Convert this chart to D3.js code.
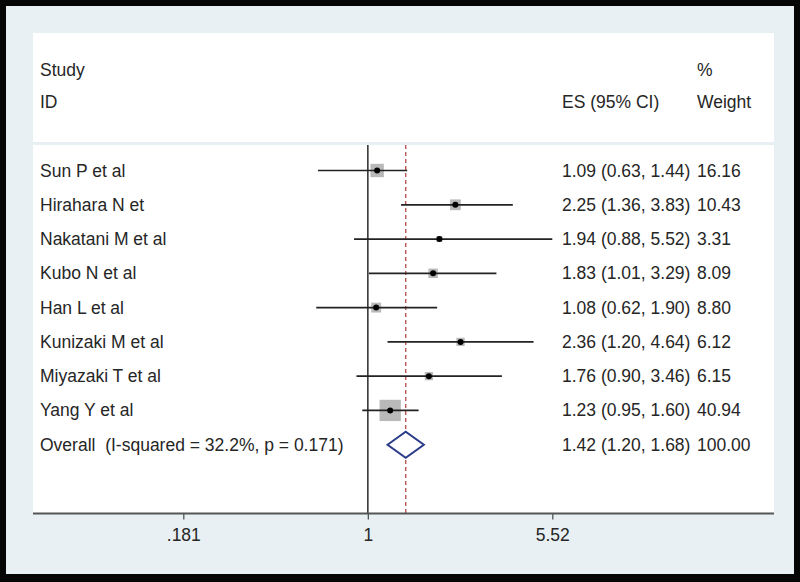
<!DOCTYPE html>
<html>
<head>
<meta charset="utf-8">
<script src="https://cdn.jsdelivr.net/npm/d3@7"></script>
<style>
  html, body { margin: 0; padding: 0; background: #000; }
  svg { display: block; }
  text { font-family: "Liberation Sans", Arial, Helvetica, sans-serif; fill: #262626; white-space: pre; }
</style>
</head>
<body>
<svg id="chart" width="800" height="582"></svg>
<script>
// ---- data ----
const studies = ["Sun P et al", "Hirahara N et", "Nakatani M et al", "Kubo N et al", "Han L et al", "Kunizaki M et al", "Miyazaki T et al", "Yang Y et al"];
const es      = [1.09, 2.25, 1.94, 1.83, 1.08, 2.36, 1.76, 1.23];
const ciLow   = [0.63, 1.36, 0.88, 1.01, 0.62, 1.20, 0.90, 0.95];
const ciHigh  = [1.44, 3.83, 5.52, 3.29, 1.90, 4.64, 3.46, 1.60];
const weights = [16.16, 10.43, 3.31, 8.09, 8.80, 6.12, 6.15, 40.94];
const esLabels = ["1.09 (0.63, 1.44)", "2.25 (1.36, 3.83)", "1.94 (0.88, 5.52)", "1.83 (1.01, 3.29)", "1.08 (0.62, 1.90)", "2.36 (1.20, 4.64)", "1.76 (0.90, 3.46)", "1.23 (0.95, 1.60)"];
const weightLabels = ["16.16", "10.43", "3.31", "8.09", "8.80", "6.12", "6.15", "40.94"];
const overallLabel = "Overall  (I-squared = 32.2%, p = 0.171)";
const overallES = [1.42, 1.20, 1.68];   // estimate, low, high
const overallESLabel = "1.42 (1.20, 1.68)";
const overallWeightLabel = "100.00";
const tickValues = [0.181, 1, 5.52];
const tickLabels = [".181", "1", "5.52"];

// ---- layout ----
const svg = d3.select("#chart");
const W = 800, H = 582;
const fontSize = 17.5;

// outer frame
svg.append("rect").attr("x", 0).attr("y", 0).attr("width", W).attr("height", H).attr("fill", "#050505");
svg.append("rect").attr("x", 6).attr("y", 6).attr("width", 788).attr("height", 568).attr("fill", "#e8f0f4");
// white panels
svg.append("rect").attr("x", 33).attr("y", 33).attr("width", 741).attr("height", 109).attr("fill", "#ffffff");
svg.append("rect").attr("x", 33).attr("y", 145).attr("width", 741).attr("height", 368).attr("fill", "#ffffff");

const x = d3.scaleLog().domain([tickValues[0], tickValues[2]]).range([183.3, 552.3]);
const rows = studies.concat([overallLabel]);
const y = d3.scalePoint().domain(rows).range([170.5, 444.7]);
const boxSide = d3.scaleSqrt().domain([0, 1]).range([0, 3.33]);

const axisY = 513.5;

// null line
svg.append("line")
  .attr("x1", x(1)).attr("x2", x(1))
  .attr("y1", 145).attr("y2", axisY)
  .attr("stroke", "#2a2a2a").attr("stroke-width", 1.5);
// overall dashed line
svg.append("line")
  .attr("x1", x(overallES[0])).attr("x2", x(overallES[0]))
  .attr("y1", 145).attr("y2", axisY)
  .attr("stroke", "#b85a55").attr("stroke-width", 1.4)
  .attr("stroke-dasharray", "4,3");

// study rows
const g = svg.append("g");
studies.forEach((s, i) => {
  const cy = y(s);
  const side = boxSide(weights[i]);
  g.append("rect")
    .attr("x", x(es[i]) - side / 2).attr("y", cy - side / 2)
    .attr("width", side).attr("height", side)
    .attr("fill", "#b9b9b9");
  g.append("line")
    .attr("x1", x(ciLow[i])).attr("x2", x(ciHigh[i]))
    .attr("y1", cy).attr("y2", cy)
    .attr("stroke", "#222").attr("stroke-width", 1.7);
  g.append("circle")
    .attr("cx", x(es[i])).attr("cy", cy).attr("r", 3)
    .attr("fill", "#000");
  g.append("text").attr("x", 40).attr("y", cy + 6).attr("font-size", fontSize).text(s);
  g.append("text").attr("x", 562).attr("y", cy + 6).attr("font-size", fontSize).text(esLabels[i]);
  g.append("text").attr("x", 697).attr("y", cy + 6).attr("font-size", fontSize).text(weightLabels[i]);
});

// overall row
const oy = y(overallLabel);
const dh = 13;
svg.append("path")
  .attr("d", `M${x(overallES[1])},${oy} L${x(overallES[0])},${oy - dh} L${x(overallES[2])},${oy} L${x(overallES[0])},${oy + dh} Z`)
  .attr("fill", "#fff").attr("stroke", "#2b3c8a").attr("stroke-width", 2);
svg.append("text").attr("x", 40).attr("y", oy + 6).attr("font-size", fontSize).text(overallLabel);
svg.append("text").attr("x", 562).attr("y", oy + 6).attr("font-size", fontSize).text(overallESLabel);
svg.append("text").attr("x", 697).attr("y", oy + 6).attr("font-size", fontSize).text(overallWeightLabel);

// headers
svg.append("text").attr("x", 40).attr("y", 76).attr("font-size", fontSize).text("Study");
svg.append("text").attr("x", 40).attr("y", 108).attr("font-size", fontSize).text("ID");
svg.append("text").attr("x", 697).attr("y", 76).attr("font-size", fontSize).text("%");
svg.append("text").attr("x", 562).attr("y", 108).attr("font-size", fontSize).text("ES (95% CI)");
svg.append("text").attr("x", 697).attr("y", 108).attr("font-size", fontSize).text("Weight");

// axis
svg.append("line")
  .attr("x1", 33).attr("x2", 774).attr("y1", axisY).attr("y2", axisY)
  .attr("stroke", "#555").attr("stroke-width", 2);
const axis = d3.axisBottom(x)
  .tickValues(tickValues)
  .tickFormat((d, i) => tickLabels[i])
  .tickSize(6)
  .tickPadding(9);
const ag = svg.append("g").attr("transform", `translate(0,${axisY})`).call(axis);
ag.select(".domain").remove();
ag.selectAll(".tick line").attr("stroke", "#555").attr("stroke-width", 1.3);
ag.selectAll(".tick text")
  .attr("font-size", fontSize)
  .attr("font-family", "Liberation Sans, Arial, sans-serif")
  .attr("fill", "#262626");
</script>
</body>
</html>
